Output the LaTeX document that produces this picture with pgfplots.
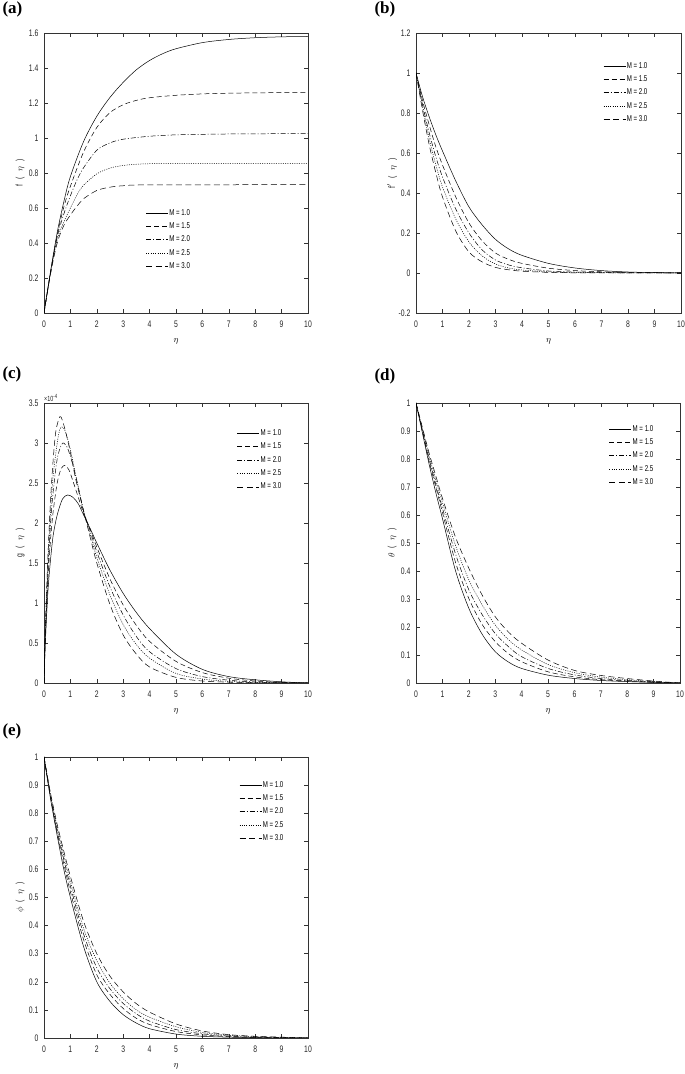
\documentclass[border=0pt]{standalone}
\usepackage{fontspec}
\setmainfont{Liberation Sans}[FakeStretch=0.72]
\newfontfamily\lblfont{Liberation Serif}
\usepackage{pgfplots}
\pgfplotsset{compat=1.18}

\pgfplotsset{
  mlab/.style={
    scale only axis, width=264pt, height=280pt,
    xmin=0, xmax=10, xtick={0,1,...,10},
    tick align=inside, xtick pos=both, ytick pos=both,
    major tick length=4pt,
    axis line style={black!80, line width=0.5pt},
    every tick/.style={black!80, line width=0.4pt},
    tick label style={font=\fontsize{9.5}{10}\selectfont, text=black!85},
    xticklabel style={yshift=-4pt},
    yticklabel style={xshift=-2pt},
    /pgf/number format/assume math mode=true,
    xlabel={$\eta$},
    xlabel style={at={(axis description cs:0.5,-0.1)}, anchor=center, font=\fontsize{9}{10}\selectfont},
    ylabel style={at={(axis description cs:-0.09,0.5)}, anchor=center, rotate=0, font=\fontsize{9.5}{10}\selectfont, text=black!85},
    legend style={draw=none, fill=none, anchor=north west, inner sep=0pt,
      font=\fontsize{8.5}{9}\selectfont, row sep=4pt,
      nodes={inner sep=1pt}},
    legend cell align=left,
    legend image code/.code={\draw[#1] (0pt,0pt) -- (22pt,0pt);},
    every axis plot/.append style={line width=0.5pt, black},
  },
  m10/.style={solid, smooth},
  m15/.style={dash pattern=on 5pt off 3pt, smooth},
  m20/.style={dash pattern=on 5pt off 2pt on 1pt off 2pt, smooth},
  m25/.style={dash pattern=on 1pt off 1.3pt, smooth},
  m30/.style={dash pattern=on 6pt off 3.5pt, smooth},
}
\newcommand{\ylab}[1]{#1\;\;(\;\;$\eta$\;\;)}

\begin{document}
\begin{tikzpicture}[x=1pt, y=1pt]
\path[use as bounding box] (0,0) rectangle (685,1074);

% panel labels
\node[font=\lblfont\bfseries\fontsize{17}{18}\selectfont, anchor=west] at (-1,1065) {(a)};
\node[font=\lblfont\bfseries\fontsize{17}{18}\selectfont, anchor=west] at (371,1065) {(b)};
\node[font=\lblfont\bfseries\fontsize{17}{18}\selectfont, anchor=west] at (-1,700) {(c)};
\node[font=\lblfont\bfseries\fontsize{17}{18}\selectfont, anchor=west] at (371,698) {(d)};
\node[font=\lblfont\bfseries\fontsize{17}{18}\selectfont, anchor=west] at (-1,343) {(e)};

% (a) f
\begin{axis}[mlab, at={(44pt,761pt)}, anchor=south west,
  ymin=0, ymax=1.6, ytick={0,0.2,...,1.6},
  ylabel={\ylab{f}},
  legend style={at={(rel axis cs:0.385,0.375)}}]
\addplot[m10] coordinates {(0,0) (0.25,0.24) (0.5,0.46) (0.75,0.635) (1,0.78) (1.5,0.98) (2,1.124) (2.5,1.232) (3,1.318) (3.5,1.39) (4,1.443) (4.5,1.482) (5,1.51) (6,1.545) (7,1.563) (8,1.573) (9,1.578) (10,1.58)};
\addplot[m15] coordinates {(0,0) (0.25,0.235) (0.5,0.445) (0.75,0.605) (1,0.724) (1.5,0.92) (2,1.06) (2.5,1.145) (3,1.19) (3.5,1.215) (4,1.23) (5,1.244) (6,1.252) (7,1.256) (8,1.258) (9,1.259) (10,1.26)};
\addplot[m20] coordinates {(0,0) (0.25,0.235) (0.5,0.435) (0.75,0.565) (1,0.67) (1.25,0.76) (1.5,0.83) (2,0.93) (2.5,0.972) (3,0.993) (4,1.01) (5,1.018) (6,1.021) (7,1.023) (8,1.024) (10,1.025)};
\addplot[m25] coordinates {(0,0) (0.25,0.23) (0.5,0.42) (0.75,0.52) (1,0.60) (1.25,0.675) (1.5,0.73) (2,0.795) (2.5,0.828) (3,0.843) (3.5,0.85) (4,0.853) (5,0.855) (10,0.855)};
\addplot[m30] coordinates {(0,0) (0.25,0.225) (0.5,0.40) (0.75,0.50) (1,0.56) (1.25,0.61) (1.5,0.653) (2,0.70) (2.5,0.719) (3,0.727) (4,0.732) (10,0.733)};
\legend{M = 1.0, M = 1.5, M = 2.0, M = 2.5, M = 3.0}
\end{axis}

% (b) f'
\begin{axis}[mlab, at={(416pt,761pt)}, anchor=south west, width=265pt,
  ymin=-0.2, ymax=1.2, ytick={-0.2,0,...,1.2},
  ylabel={\ylab{f$'$}},
  legend style={at={(rel axis cs:0.706,0.9)}}]
\addplot[m10] coordinates {(0,1) (0.25,0.88) (0.5,0.78) (0.75,0.69) (1,0.61) (1.5,0.46) (2,0.33) (2.5,0.24) (3,0.168) (3.5,0.12) (4,0.088) (5,0.048) (6,0.025) (7,0.012) (8,0.005) (9,0.002) (10,0)};
\addplot[m15] coordinates {(0,1) (0.25,0.86) (0.5,0.74) (0.75,0.63) (1,0.54) (1.5,0.38) (2,0.25) (2.5,0.16) (3,0.10) (3.5,0.068) (4,0.048) (5,0.024) (6,0.012) (7,0.006) (8,0.003) (10,0)};
\addplot[m20] coordinates {(0,1) (0.25,0.84) (0.5,0.70) (0.75,0.58) (1,0.48) (1.5,0.32) (2,0.20) (2.5,0.115) (3,0.065) (3.5,0.04) (4,0.026) (5,0.01) (6,0.005) (7,0.002) (8,0.001) (10,0)};
\addplot[m25] coordinates {(0,1) (0.25,0.83) (0.5,0.67) (0.75,0.54) (1,0.43) (1.5,0.27) (2,0.155) (2.5,0.085) (3,0.045) (3.5,0.025) (4,0.015) (5,0.006) (6,0.002) (8,0.001) (10,0)};
\addplot[m30] coordinates {(0,1) (0.25,0.81) (0.5,0.64) (0.75,0.50) (1,0.38) (1.5,0.21) (2,0.105) (2.5,0.055) (3,0.028) (3.5,0.016) (4,0.009) (5,0.003) (6,0.001) (10,0)};
\legend{M = 1.0, M = 1.5, M = 2.0, M = 2.5, M = 3.0}
\end{axis}

% (c) g, values in units of 1e-4
\begin{axis}[mlab, name=pc, at={(44pt,391pt)}, anchor=south west,
  ymin=0, ymax=3.5, ytick={0,0.5,...,3.5},
  ylabel={\ylab{g}},
  legend style={at={(rel axis cs:0.731,0.91)}}]
\addplot[m10] coordinates {(0,0) (0.05,0.5) (0.15,1.15) (0.25,1.55) (0.35,1.85) (0.5,2.1) (0.7,2.3) (0.9,2.35) (1.1,2.32) (1.3,2.24) (1.5,2.1) (1.75,1.93) (2,1.75) (2.5,1.41) (3,1.12) (3.5,0.88) (4,0.68) (5,0.36) (6,0.17) (7,0.08) (8,0.04) (9,0.015) (10,0)};
\addplot[m15] coordinates {(0,0) (0.05,0.55) (0.15,1.3) (0.25,1.8) (0.35,2.15) (0.5,2.5) (0.65,2.68) (0.8,2.72) (0.95,2.66) (1.1,2.52) (1.3,2.32) (1.5,2.12) (1.75,1.92) (2,1.70) (2.5,1.3) (3,0.975) (3.5,0.72) (4,0.52) (5,0.27) (6,0.13) (7,0.06) (8,0.025) (9,0.008) (10,0)};
\addplot[m20] coordinates {(0,0) (0.05,0.6) (0.15,1.4) (0.25,2.0) (0.35,2.4) (0.5,2.8) (0.65,2.97) (0.75,3.0) (0.9,2.93) (1.1,2.72) (1.3,2.45) (1.5,2.15) (1.75,1.9) (2,1.64) (2.5,1.2) (3,0.85) (3.5,0.58) (4,0.39) (5,0.18) (6,0.08) (7,0.035) (8,0.012) (9,0.004) (10,0)};
\addplot[m25] coordinates {(0,0) (0.05,0.65) (0.15,1.5) (0.25,2.15) (0.35,2.6) (0.5,3.0) (0.6,3.17) (0.68,3.2) (0.8,3.15) (1,2.92) (1.2,2.6) (1.5,2.15) (1.75,1.86) (2,1.57) (2.5,1.1) (3,0.73) (3.5,0.48) (4,0.31) (5,0.12) (6,0.05) (7,0.02) (8,0.007) (10,0)};
\addplot[m30] coordinates {(0,0) (0.05,0.7) (0.15,1.6) (0.25,2.3) (0.35,2.8) (0.45,3.15) (0.6,3.33) (0.7,3.28) (0.85,3.1) (1,2.88) (1.2,2.55) (1.5,2.15) (1.75,1.82) (2,1.5) (2.5,0.98) (3,0.6) (3.5,0.36) (4,0.2) (5,0.07) (6,0.025) (7,0.01) (8,0.003) (10,0)};
\legend{M = 1.0, M = 1.5, M = 2.0, M = 2.5, M = 3.0}
\end{axis}
\node[anchor=south west, inner sep=0pt, font=\fontsize{7.5}{8}\selectfont, text=black!85] at ([yshift=1.5pt]pc.north west) {×10\raisebox{3pt}{\fontsize{6}{6}\selectfont -4}};

% (d) theta
\begin{axis}[mlab, at={(416pt,391pt)}, anchor=south west,
  ymin=0, ymax=1, ytick={0,0.1,...,1},
  ylabel={\ylab{$\theta$}},
  legend style={at={(rel axis cs:0.731,0.925)}}]
\addplot[m10] coordinates {(0,1) (0.25,0.89) (0.5,0.78) (0.75,0.68) (1,0.588) (1.5,0.40) (2,0.267) (2.5,0.175) (3,0.112) (3.5,0.075) (4,0.052) (5,0.028) (6,0.016) (7,0.009) (8,0.005) (9,0.002) (10,0)};
\addplot[m15] coordinates {(0,1) (0.25,0.895) (0.5,0.79) (0.75,0.70) (1,0.61) (1.5,0.43) (2,0.302) (2.5,0.21) (3,0.148) (3.5,0.105) (4,0.076) (5,0.04) (6,0.022) (7,0.012) (8,0.007) (9,0.003) (10,0)};
\addplot[m20] coordinates {(0,1) (0.25,0.90) (0.5,0.80) (0.75,0.71) (1,0.625) (1.5,0.46) (2,0.333) (2.5,0.245) (3,0.177) (3.5,0.13) (4,0.094) (5,0.052) (6,0.029) (7,0.016) (8,0.009) (9,0.004) (10,0)};
\addplot[m25] coordinates {(0,1) (0.25,0.905) (0.5,0.81) (0.75,0.725) (1,0.645) (1.5,0.49) (2,0.369) (2.5,0.28) (3,0.207) (3.5,0.155) (4,0.118) (5,0.066) (6,0.037) (7,0.021) (8,0.012) (9,0.005) (10,0)};
\addplot[m30] coordinates {(0,1) (0.25,0.91) (0.5,0.82) (0.75,0.74) (1,0.66) (1.5,0.52) (2,0.41) (2.5,0.315) (3,0.237) (3.5,0.182) (4,0.142) (5,0.082) (6,0.045) (7,0.027) (8,0.016) (9,0.007) (10,0)};
\legend{M = 1.0, M = 1.5, M = 2.0, M = 2.5, M = 3.0}
\end{axis}

% (e) phi
\begin{axis}[mlab, at={(44pt,36pt)}, anchor=south west, height=281pt,
  ymin=0, ymax=1, ytick={0,0.1,...,1},
  ylabel={\ylab{$\phi$}},
  legend style={at={(rel axis cs:0.739,0.918)}}]
\addplot[m10] coordinates {(0,1) (0.25,0.85) (0.5,0.72) (0.75,0.60) (1,0.50) (1.5,0.325) (2,0.20) (2.5,0.13) (3,0.083) (3.5,0.053) (4,0.033) (5,0.014) (6,0.006) (7,0.003) (8,0.001) (10,0)};
\addplot[m15] coordinates {(0,1) (0.25,0.855) (0.5,0.73) (0.75,0.62) (1,0.52) (1.5,0.35) (2,0.225) (2.5,0.155) (3,0.105) (3.5,0.07) (4,0.048) (5,0.023) (6,0.011) (7,0.005) (8,0.002) (10,0)};
\addplot[m20] coordinates {(0,1) (0.25,0.86) (0.5,0.74) (0.75,0.635) (1,0.54) (1.5,0.37) (2,0.25) (2.5,0.175) (3,0.123) (3.5,0.086) (4,0.06) (5,0.03) (6,0.015) (7,0.007) (8,0.003) (10,0)};
\addplot[m25] coordinates {(0,1) (0.25,0.865) (0.5,0.75) (0.75,0.65) (1,0.557) (1.5,0.39) (2,0.275) (2.5,0.195) (3,0.14) (3.5,0.10) (4,0.074) (5,0.04) (6,0.02) (7,0.01) (8,0.005) (9,0.002) (10,0)};
\addplot[m30] coordinates {(0,1) (0.25,0.87) (0.5,0.76) (0.75,0.665) (1,0.575) (1.5,0.415) (2,0.30) (2.5,0.22) (3,0.164) (3.5,0.122) (4,0.092) (5,0.05) (6,0.025) (7,0.012) (8,0.006) (9,0.003) (10,0)};
\legend{M = 1.0, M = 1.5, M = 2.0, M = 2.5, M = 3.0}
\end{axis}
\end{tikzpicture}
\end{document}
